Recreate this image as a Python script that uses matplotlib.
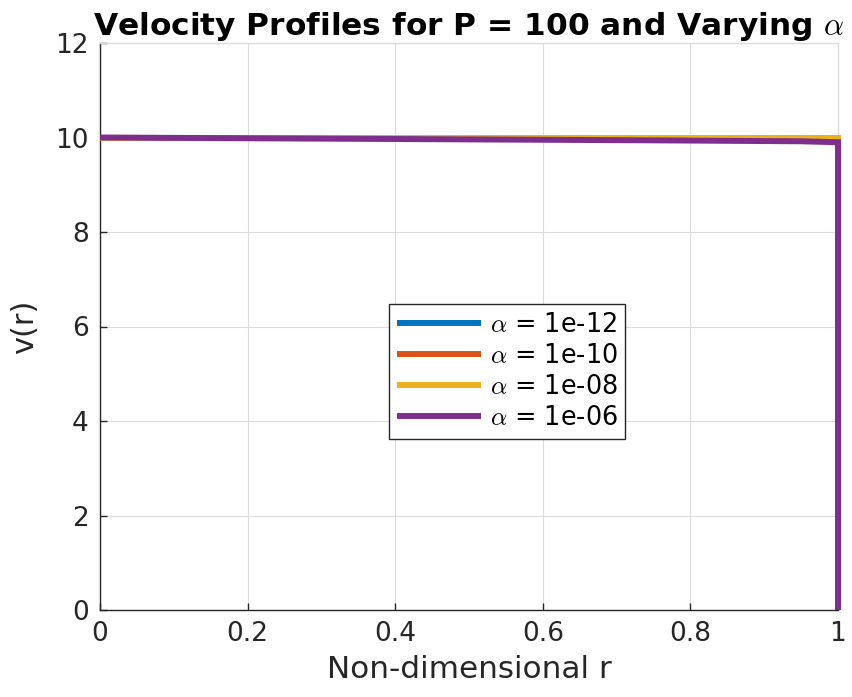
import matplotlib
matplotlib.use("Agg")
import matplotlib.pyplot as plt

# Data
r_flat = [0.0, 0.5, 1.0, 1.0]
v_a12 = [10.0, 10.0, 10.0, 0.0]
v_a10 = [10.0, 10.0, 10.0, 0.0]
v_a08 = [10.0, 10.0, 10.0, 0.0]
r_a06 = [0.0, 0.25, 0.5, 0.75, 0.95, 1.0, 1.0]
v_a06 = [10.0, 9.98, 9.96, 9.94, 9.92, 9.90, 0.0]
labels = [r"$\alpha$ = 1e-12", r"$\alpha$ = 1e-10", r"$\alpha$ = 1e-08", r"$\alpha$ = 1e-06"]
colors = ["#0072BD", "#D95319", "#EDB120", "#7E2F8E"]
xticks = [0, 0.2, 0.4, 0.6, 0.8, 1]
yticks = [0, 2, 4, 6, 8, 10, 12]

plt.rcParams['font.family'] = ['DejaVu Sans']
plt.rcParams['mathtext.fontset'] = 'cm'

fig = plt.figure(figsize=(8.52, 6.97), dpi=100)
ax = fig.add_axes([100/852, 1-610/697, 738/852, (610-43)/697])

series = [(r_flat, v_a12), (r_flat, v_a10), (r_flat, v_a08), (r_a06, v_a06)]
for (x, y), c, lab in zip(series, colors, labels):
    ax.plot(x, y, color=c, lw=4.3, label=lab, solid_joinstyle='miter',
            solid_capstyle='butt', clip_on=False, zorder=3)

ax.set_xlim(0, 1)
ax.set_ylim(0, 12)
ax.set_xticks(xticks)
ax.set_xticklabels(["0", "0.2", "0.4", "0.6", "0.8", "1"])
ax.set_yticks(yticks)
ax.grid(True, color='#dcdcdc', lw=0.8)
ax.set_axisbelow(True)
for s in ['left', 'bottom']:
    ax.spines[s].set_color('#262626')
    ax.spines[s].set_linewidth(1.0)
for s in ['top', 'right']:
    ax.spines[s].set_color('#dcdcdc')
    ax.spines[s].set_linewidth(1.0)
ax.tick_params(direction='in', length=5, width=1, color='#262626',
               labelsize=19, labelcolor='#262626', pad=8, top=False, right=False)

ax.set_xlabel("Non-dimensional r", fontsize=22.4, color='#262626', labelpad=6)
ax.set_ylabel("v(r)", fontsize=22, color='#262626', labelpad=12)
ax.set_title(r"Velocity Profiles for P = 100 and Varying $\alpha$", fontsize=22.5,
             fontweight='bold', pad=2)

leg = ax.legend(loc='upper left', bbox_to_anchor=(389/852, 1-304/697),
                bbox_transform=fig.transFigure, fontsize=18.4, handlelength=3.3,
                frameon=True, fancybox=False, edgecolor='#262626', framealpha=1,
                borderpad=0.3, labelspacing=0.2, handletextpad=0.35, borderaxespad=0)
leg.get_frame().set_linewidth(1.0)
leg.set_zorder(5)

fig.savefig("out.png", dpi=100)
